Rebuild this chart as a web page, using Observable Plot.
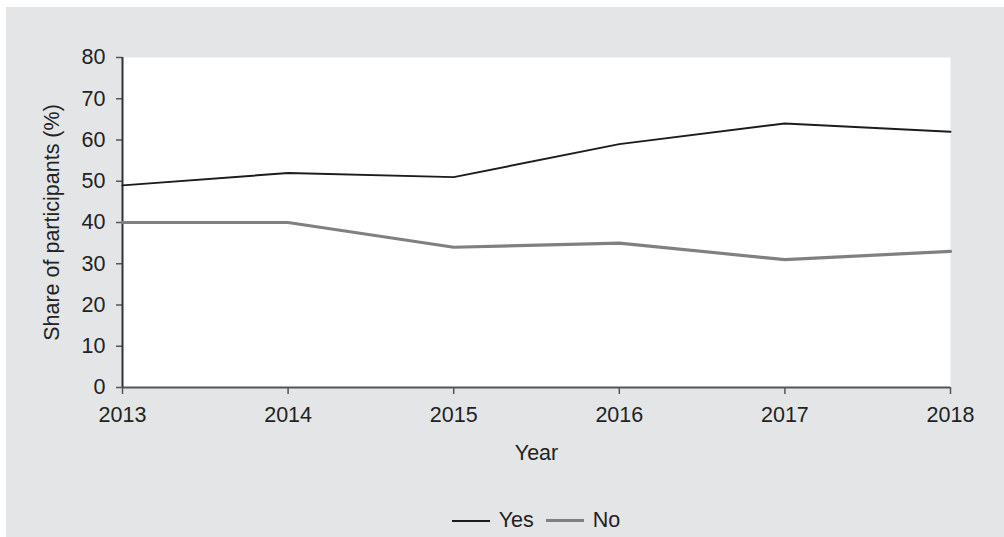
<!DOCTYPE html>
<html>
<head>
<meta charset="utf-8">
<script src="https://cdn.jsdelivr.net/npm/d3@7"></script>
<script src="https://cdn.jsdelivr.net/npm/@observablehq/plot@0.6"></script>
<style>
  html, body { margin: 0; padding: 0; background: #ffffff; }
  #panel { position: absolute; left: 6px; top: 7px; width: 998px; height: 530px; background: #e4e5e7; font-family: "Liberation Sans", Arial, sans-serif; }
  #legend { position: absolute; top: 501px; left: 0; width: 1060px; display: flex; justify-content: center; align-items: center; font-size: 21.5px; color: #222; gap: 0; }
  .item { display: flex; align-items: center; margin: 0 6px; }
  .swatch { display: inline-block; width: 38px; margin-right: 9px; }
</style>
</head>
<body>
<div id="panel"><div id="chart"></div><div id="legend"></div></div>
<script>
const years = [2013, 2014, 2015, 2016, 2017, 2018];
const yesValues = [49, 52, 51, 59, 64, 62];
const noValues = [40, 40, 34, 35, 31, 33];
const yTicks = [0, 10, 20, 30, 40, 50, 60, 70, 80];
const seriesNames = ["Yes", "No"];
const seriesColors = ["#1c1c1c", "#808080"];
const seriesWidths = [2, 3.2];

const yesData = years.map((y, i) => ({year: y, value: yesValues[i]}));
const noData = years.map((y, i) => ({year: y, value: noValues[i]}));

const chart = Plot.plot({
  width: 998,
  height: 470,
  marginLeft: 116,
  marginTop: 50,
  marginRight: 54,
  marginBottom: 90,
  style: {background: "transparent", fontFamily: "'Liberation Sans', Arial, sans-serif", fontSize: "21.5px", color: "#222"},
  x: {domain: [2013, 2018]},
  y: {domain: [0, 80]},
  marks: [
    Plot.frame({fill: "white", stroke: null}),
    Plot.axisY({ticks: yTicks, tickSize: 6, tickPadding: 11, label: null, stroke: "#555", strokeWidth: 1.5, fill: "#222"}),
    Plot.axisX({ticks: years, tickFormat: "d", tickSize: 7, tickPadding: 12, label: null, stroke: "#555", strokeWidth: 1.5, fill: "#222"}),
    Plot.ruleY([0], {stroke: "#555", strokeWidth: 2}),
    Plot.ruleX([2013], {stroke: "#333", strokeWidth: 2}),
    Plot.line(noData, {x: "year", y: "value", stroke: seriesColors[1], strokeWidth: seriesWidths[1]}),
    Plot.line(yesData, {x: "year", y: "value", stroke: seriesColors[0], strokeWidth: seriesWidths[0]}),
    Plot.text(["Year"], {frameAnchor: "bottom", dy: 72, text: d => d, fill: "#222", fontSize: 21.5}),
    Plot.text(["Share of participants (%)"], {frameAnchor: "left", textAnchor: "middle", dx: -70, rotate: -90, text: d => d, fill: "#222", fontSize: 21.5})
  ]
});
document.getElementById("chart").appendChild(chart);

const legend = document.getElementById("legend");
seriesNames.forEach((name, i) => {
  const item = document.createElement("span");
  item.className = "item";
  const sw = document.createElement("span");
  sw.className = "swatch";
  sw.style.borderTop = seriesWidths[i] + "px solid " + seriesColors[i];
  item.appendChild(sw);
  item.appendChild(document.createTextNode(name));
  legend.appendChild(item);
});
</script>
</body>
</html>
